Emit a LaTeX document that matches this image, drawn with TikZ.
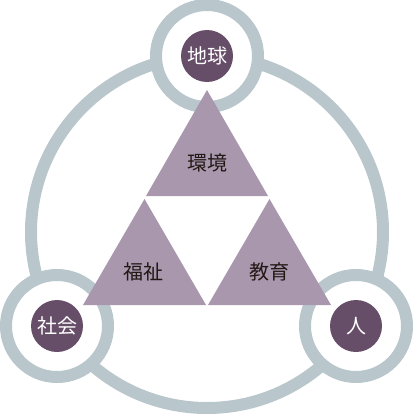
\documentclass[tikz,border=0pt]{standalone}
\usepackage{fontspec}
\setmainfont{Noto Sans CJK JP}
\definecolor{ringgray}{HTML}{B9C7CD}
\definecolor{trimauve}{HTML}{A897AD}
\definecolor{hubplum}{HTML}{664E69}
\definecolor{labelink}{HTML}{231815}
\begin{document}
\begin{tikzpicture}[x=1pt,y=-1pt,
  ring/.style={draw=ringgray,line width=12pt,fill=white},
  hub/.style={circle,fill=hubplum,text=white,minimum size=52pt,inner sep=0pt,font=\fontsize{20}{20}\selectfont},
  tri/.style={fill=trimauve},
  word/.style={text=labelink,inner sep=0pt,font=\fontsize{20}{20}\selectfont}]
\useasboundingbox (0,0) rectangle (413,415);
\draw [ringgray,line width=12pt] (207,232) circle (176);
\draw [ring] (207,56) circle (51); \draw [ring] (57,326) circle (51); \draw [ring] (356,326) circle (51);
\node [hub] (earth) at (207,56) {地球}; \node [hub] (society) at (57,326) {社会}; \node [hub] (person) at (356,326) {人};
\fill [tri] (207,90) -- (268,196) -- (146,196) -- cycle;
\fill [tri] (144.5,199) -- (206,305) -- (83,305) -- cycle;
\fill [tri] (269.5,199) -- (331,305) -- (208,305) -- cycle;
\node [word] (environment) at (207.5,163) {環境}; \node [word] (welfare) at (143,272) {福祉}; \node [word] (education) at (269,272) {教育};
\end{tikzpicture}
\end{document}
